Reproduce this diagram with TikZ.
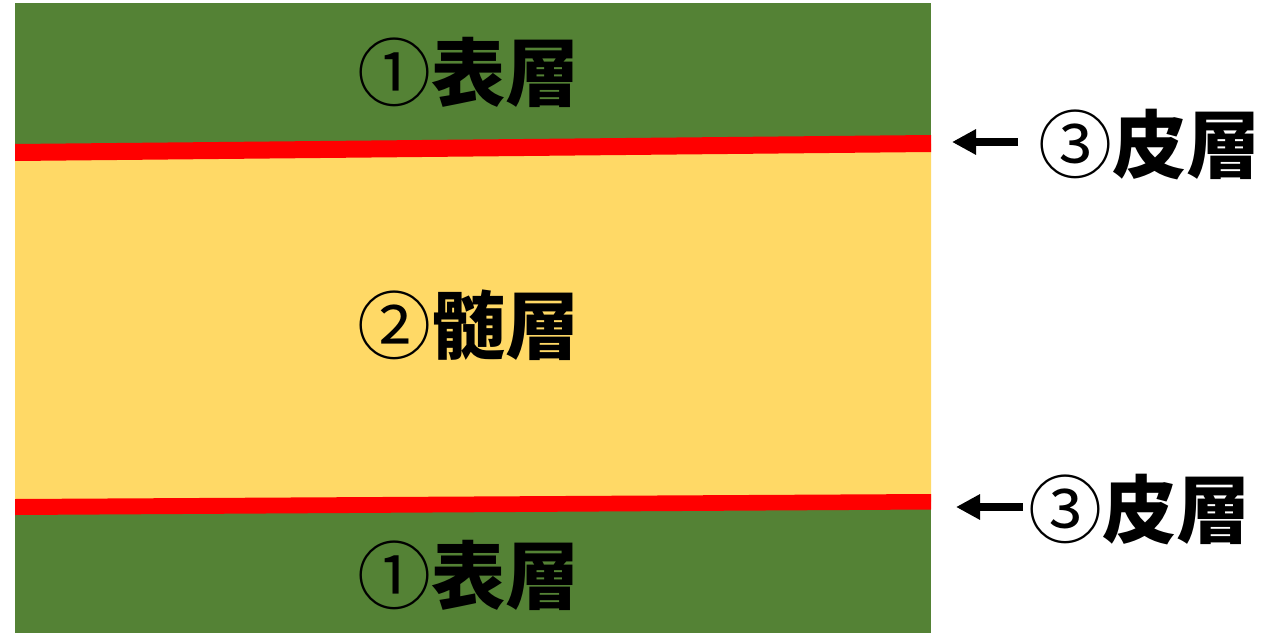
\documentclass[tikz,border=0pt]{standalone}
\usepackage{fontspec}
\newfontfamily\cjk{Noto Sans CJK JP}
\usetikzlibrary{arrows.meta}
\definecolor{layergreen}{HTML}{548235}
\definecolor{layeryellow}{HTML}{FFD966}
\definecolor{layerred}{HTML}{FF0000}
\newcommand{\cnum}[1]{{\mdseries #1}}
\tikzset{
  lbl/.style={inner sep=0pt, font=\cjk\bfseries\fontsize{74}{80}\selectfont, text=black},
  pointer/.style={line width=8pt, -{Triangle[length=24pt,width=24pt]}},
}
\begin{document}
\begin{tikzpicture}[x=1pt,y=-1pt]
\useasboundingbox (0,0) rectangle (1279,634);
% layers
\fill[layergreen] (15,3) rectangle (931,633);
\fill[layeryellow] (15,152.5) -- (931,143.5) -- (931,501.7) -- (15,507) -- cycle;
\fill[layerred] (15,144) -- (931,135) -- (931,152) -- (15,161) -- cycle;
\fill[layerred] (15,499) -- (931,494) -- (931,509.5) -- (15,515) -- cycle;
% labels
\node[lbl] (top) at (468,72) {\cnum{①}表層};
\node[lbl] (mid) at (468,325) {\cnum{②}髄層};
\node[lbl] (bot) at (468,575) {\cnum{①}表層};
\node[lbl, anchor=west] (skin1) at (1038,145) {\cnum{③}皮層};
\node[lbl, anchor=west] (skin2) at (1028,510) {\cnum{③}皮層};
% arrows
\coordinate (t1) at (952,142);
\coordinate (t2) at (956,507);
\draw[pointer] (skin1.west |- t1) ++(-20,0) -- (t1);
\draw[pointer] (skin2.west |- t2) ++(-5,0) -- (t2);
\end{tikzpicture}
\end{document}
